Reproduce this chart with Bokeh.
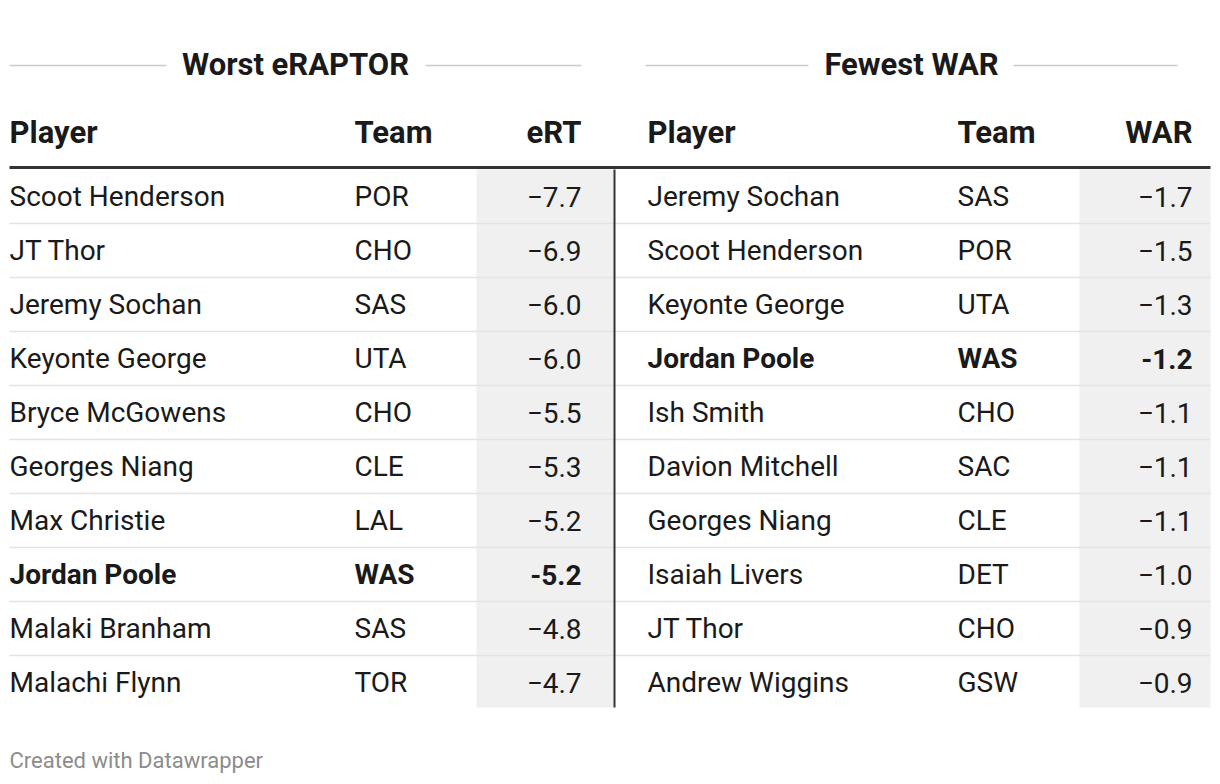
from bokeh.plotting import figure
from bokeh.models import Range1d, ColumnDataSource
from bokeh.core.properties import value
from bokeh.embed import file_html
from bokeh.resources import INLINE

# ---- data ----
left_title = "Worst eRAPTOR"
right_title = "Fewest WAR"
left_headers = ["Player", "Team", "eRT"]
right_headers = ["Player", "Team", "WAR"]

left_players = ["Scoot Henderson", "JT Thor", "Jeremy Sochan", "Keyonte George", "Bryce McGowens",
                "Georges Niang", "Max Christie", "Jordan Poole", "Malaki Branham", "Malachi Flynn"]
left_teams = ["POR", "CHO", "SAS", "UTA", "CHO", "CLE", "LAL", "WAS", "SAS", "TOR"]
left_values = ["\u22127.7", "\u22126.9", "\u22126.0", "\u22126.0", "\u22125.5", "\u22125.3", "\u22125.2",
               "-5.2", "\u22124.8", "\u22124.7"]
left_bold = [False, False, False, False, False, False, False, True, False, False]

right_players = ["Jeremy Sochan", "Scoot Henderson", "Keyonte George", "Jordan Poole", "Ish Smith",
                 "Davion Mitchell", "Georges Niang", "Isaiah Livers", "JT Thor", "Andrew Wiggins"]
right_teams = ["SAS", "POR", "UTA", "WAS", "CHO", "SAC", "CLE", "DET", "CHO", "GSW"]
right_values = ["\u22121.7", "\u22121.5", "\u22121.3", "-1.2", "\u22121.1", "\u22121.1", "\u22121.1",
                "\u22121.0", "\u22120.9", "\u22120.9"]
right_bold = [False, False, False, True, False, False, False, False, False, False]

footer = "Created with Datawrapper"

FONT = value("Roboto")
W, H = 1216, 780
p = figure(width=W, height=H, output_backend="svg", toolbar_location=None,
           x_range=Range1d(1, W + 1), y_range=Range1d(H, 0), min_border=0)
p.axis.visible = False
p.grid.visible = False
p.outline_line_color = None
p.background_fill_color = "white"
p.border_fill_color = "white"

ROW0 = 196
ROWH = 54
n = len(left_players)
row_y = [ROW0 + ROWH * i for i in range(n)]
top = 169
bottom = row_y[-1] + 25

# shaded value columns
p.quad(left=[477, 1080], right=[614, 1211], top=[top, top], bottom=[bottom, bottom],
       fill_color="#f0f0f0", line_color=None)

# row separators
for i in range(n - 1):
    y = row_y[i] + ROWH / 2
    p.segment(x0=[10, 616], x1=[614, 1211], y0=[y, y], y1=[y, y], line_color="#e3e3e3", line_width=1.5)

# header thick line
p.segment(x0=[10], x1=[1211], y0=[167], y1=[167], line_color="#333333", line_width=3)
# vertical separator
p.segment(x0=[615], x1=[615], y0=[top], y1=[bottom], line_color="#333333", line_width=2)

# titles with side lines
p.segment(x0=[10, 426, 646, 1014], x1=[167, 582, 809, 1178], y0=[65] * 4, y1=[65] * 4,
          line_color="#cccccc", line_width=1.5)
p.text(x=[296, 912], y=[64, 64], text=[left_title, right_title], text_font=FONT,
       text_font_style="bold", text_font_size="31px", text_align="center",
       text_baseline="middle", text_color="#1a1a1a")

# column headers
hx = [10, 355, 582, 648, 958, 1193]
halign = ["left", "left", "right", "left", "left", "right"]
htext = left_headers + right_headers
for x, a, t in zip(hx, halign, htext):
    p.text(x=[x], y=[132], text=[t], text_font=FONT, text_font_style="bold",
           text_font_size="31px", text_align=a, text_baseline="middle", text_color="#1a1a1a")

def draw_col(xpos, align, texts, bolds):
    for style in ("normal", "bold"):
        idx = [i for i in range(n) if (bolds[i] == (style == "bold"))]
        if not idx:
            continue
        src = ColumnDataSource(dict(x=[xpos] * len(idx), y=[row_y[i] for i in idx],
                                    t=[texts[i] for i in idx]))
        p.text(x="x", y="y", text="t", source=src, text_font=FONT, text_font_style=style,
               text_font_size="28px", text_align=align, text_baseline="middle", text_color="#1a1a1a")

draw_col(10, "left", left_players, left_bold)
draw_col(355, "left", left_teams, left_bold)
draw_col(582, "right", left_values, left_bold)
draw_col(648, "left", right_players, right_bold)
draw_col(958, "left", right_teams, right_bold)
draw_col(1193, "right", right_values, right_bold)

p.text(x=[10], y=[760], text=[footer], text_font=FONT, text_font_size="22px",
       text_align="left", text_baseline="middle", text_color="#8c8c8c")

open("out.html", "w").write(file_html(p, INLINE))
